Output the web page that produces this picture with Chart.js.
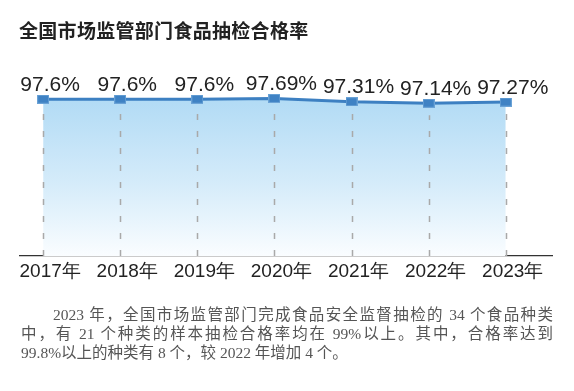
<!DOCTYPE html>
<html><head><meta charset="utf-8">
<script src="https://cdn.jsdelivr.net/npm/chart.js@4.4.0/dist/chart.umd.min.js"></script>
<style>
html,body{margin:0;padding:0;background:#fff;}
#wrap{position:relative;width:574px;height:391px;overflow:hidden;}
#c{position:absolute;left:0;top:0;}
#title{position:absolute;left:19px;top:16px;font:bold 19px "Noto Sans CJK SC",sans-serif;color:#222;letter-spacing:0.3px;}
.p{position:absolute;left:21px;width:532px;font:15.5px "Liberation Serif","Noto Sans CJK SC",serif;color:#555;line-height:19px;white-space:nowrap;}
.j{text-align:justify;text-align-last:justify;white-space:normal;}
</style></head>
<body><div id="wrap">
<canvas id="c" width="574" height="391"></canvas>
<div id="title">全国市场监管部门食品抽检合格率</div>
<div class="p j" style="top:305px;left:53px;width:500px;">2023 年，全国市场监管部门完成食品安全监督抽检的 34 个食品种类</div>
<div class="p j" style="top:324px;">中，有 21 个种类的样本抽检合格率均在 99%以上。其中，合格率达到</div>
<div class="p" style="top:343px;">99.8%以上的种类有 8 个，较 2022 年增加 4 个。</div>
</div>
<script>
const years = ['2017年','2018年','2019年','2020年','2021年','2022年','2023年'];
const rates = [97.6, 97.6, 97.6, 97.69, 97.31, 97.14, 97.27];
const rateLabels = ['97.6%','97.6%','97.6%','97.69%','97.31%','97.14%','97.27%'];

const pts = years.map((y,i)=>({x:i,y:rates[i]}));

// point marker: small blue rectangle
const mk = document.createElement('canvas');
mk.width = 12; mk.height = 9;
const mctx = mk.getContext('2d');
mctx.fillStyle = '#3f82c4';
mctx.fillRect(0,0,12,9);
mctx.strokeStyle = '#6aa2d6';
mctx.lineWidth = 1;
mctx.strokeRect(0.5,0.5,11,8);

const overlay = {
  id:'overlay',
  afterDatasetsDraw(chart){
    const ctx = chart.ctx;
    const xs = chart.scales.x, ys = chart.scales.y;
    const bottom = chart.chartArea.bottom;
    ctx.save();
    // dashed verticals
    ctx.strokeStyle = '#a9a9a9';
    ctx.lineWidth = 1.5;
    ctx.setLineDash([6,11]);
    rates.forEach((v,i)=>{
      const px = Math.round(xs.getPixelForValue(i)) + 0.5;
      const py = ys.getPixelForValue(v);
      ctx.beginPath();
      ctx.moveTo(px,bottom);
      ctx.lineTo(px,py+12);
      ctx.stroke();
    });
    ctx.setLineDash([]);
    // value labels
    ctx.fillStyle = '#222';
    ctx.font = '21px "Liberation Sans", Arial, sans-serif';
    ctx.textAlign = 'center';
    ctx.textBaseline = 'alphabetic';
    rates.forEach((v,i)=>{
      const px = xs.getPixelForValue(i);
      const py = ys.getPixelForValue(v);
      ctx.fillText(rateLabels[i], px+7, py-8.5);
    });
    ctx.restore();
  }
};

const ctx = document.getElementById('c').getContext('2d');
const grad = ctx.createLinearGradient(0,100,0,256);
grad.addColorStop(0,'rgba(178,219,245,1)');
grad.addColorStop(0.55,'rgba(214,236,250,1)');
grad.addColorStop(1,'rgba(250,253,255,1)');

new Chart(ctx,{
  type:'line',
  data:{datasets:[{
    data:pts,
    borderColor:'#3d80c2',
    borderWidth:3,
    backgroundColor:grad,
    fill:'start',
    tension:0,
    pointStyle:mk,
    pointRadius:6,
    pointHoverRadius:6
  }]},
  options:{
    responsive:false,
    animation:false,
    events:[],
    layout:{padding:{left:20,right:22,top:60,bottom:105}},
    plugins:{legend:{display:false},tooltip:{enabled:false}},
    scales:{
      x:{
        type:'linear',
        min:-0.3,max:6.6,
        afterBuildTicks(scale){ scale.ticks = years.map((y,i)=>({value:i})); },
        afterFit(scale){ scale.height = 30; },
        grid:{display:false,drawTicks:false},
        border:{display:true,color:'#333',width:1.2},
        ticks:{
          callback:(v)=>years[v],
          font:{family:'"Liberation Sans", Arial, sans-serif',size:19},
          color:'#222',
          padding:4,
          labelOffset:7,
          maxRotation:0,
          autoSkip:false
        }
      },
      y:{
        display:false,
        min:79.6,max:102.1
      }
    }
  },
  plugins:[overlay]
});
</script>
</body></html>
